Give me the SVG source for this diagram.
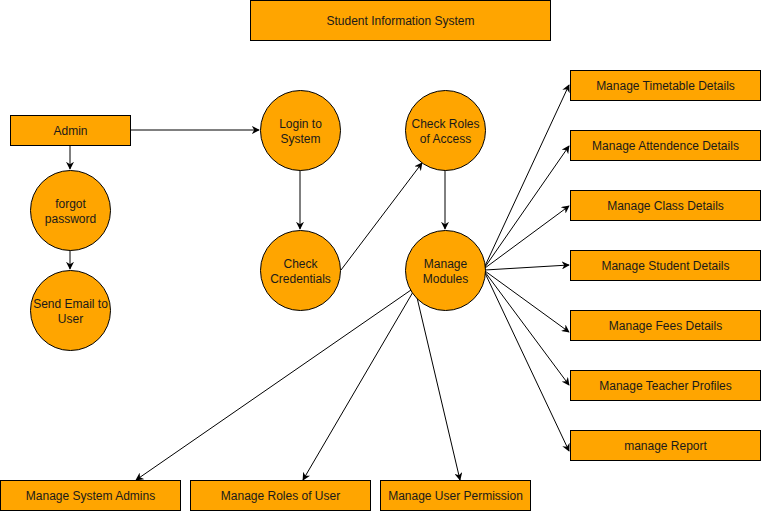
<svg xmlns="http://www.w3.org/2000/svg" width="761" height="511" viewBox="0 0 761 511">
  <defs>
    <marker id="arrow" viewBox="0 0 10 10" refX="9" refY="5" markerWidth="8" markerHeight="8" markerUnits="userSpaceOnUse" orient="auto">
      <path d="M0,0 L10,5 L0,10 L3,5 Z" fill="#000"/>
    </marker>
    <style>
      .box { fill: #ffa500; stroke: #000; stroke-width: 1; }
      .proc { fill: #ffa500; stroke: #000; stroke-width: 1; }
      .lbl { font-family: "Liberation Sans", Arial, sans-serif; font-size: 12px; fill: #1a1a1a; text-anchor: middle; dominant-baseline: central; }
      .edge { fill: none; stroke: #000; stroke-width: 1; marker-end: url(#arrow); }
    </style>
  </defs>
  <rect width="761" height="511" fill="#ffffff"/>

  <g id="connectors">
    <path class="edge" d="M130,130 L259,130"/>
    <path class="edge" d="M70,145 L70,169"/>
    <path class="edge" d="M70,250 L70,269"/>
    <path class="edge" d="M300,170 L300,229"/>
    <path class="edge" d="M341,270 L422,163"/>
    <path class="edge" d="M445,170 L445,229"/>
    <path class="edge" d="M485,266 L569,85"/>
    <path class="edge" d="M485,267 L569,146"/>
    <path class="edge" d="M485,268 L569,206"/>
    <path class="edge" d="M485,270 L569,265"/>
    <path class="edge" d="M485,271 L569,332"/>
    <path class="edge" d="M485,272 L569,385"/>
    <path class="edge" d="M485,273 L569,451"/>
    <path class="edge" d="M411,290 L136,480"/>
    <path class="edge" d="M413,292 L303,480"/>
    <path class="edge" d="M415,289 L460,480"/>
  </g>

  <g id="title">
    <rect class="box" x="250.5" y="0.5" width="300" height="40"/>
    <text class="lbl" x="400.5" y="20.5">Student Information System</text>
  </g>

  <g id="admin">
    <rect class="box" x="10.5" y="115.5" width="120" height="30"/>
    <text class="lbl" x="70.5" y="130.5">Admin</text>
  </g>

  <g id="forgot-password">
    <circle class="proc" cx="70.5" cy="210.5" r="40"/>
    <text class="lbl" x="70.5" y="203.5">forgot</text>
    <text class="lbl" x="70.5" y="218.5">password</text>
  </g>

  <g id="send-email">
    <circle class="proc" cx="70.5" cy="310.5" r="40"/>
    <text class="lbl" x="70.5" y="303.5">Send Email to</text>
    <text class="lbl" x="70.5" y="318.5">User</text>
  </g>

  <g id="login">
    <circle class="proc" cx="300.5" cy="130.5" r="40"/>
    <text class="lbl" x="300.5" y="123.5">Login to</text>
    <text class="lbl" x="300.5" y="138.5">System</text>
  </g>

  <g id="check-credentials">
    <circle class="proc" cx="300.5" cy="270.5" r="40"/>
    <text class="lbl" x="300.5" y="263.5">Check</text>
    <text class="lbl" x="300.5" y="278.5">Credentials</text>
  </g>

  <g id="check-roles">
    <circle class="proc" cx="445.5" cy="130.5" r="40"/>
    <text class="lbl" x="445.5" y="123.5">Check Roles</text>
    <text class="lbl" x="445.5" y="138.5">of Access</text>
  </g>

  <g id="manage-modules">
    <circle class="proc" cx="445.5" cy="270.5" r="40"/>
    <text class="lbl" x="445.5" y="263.5">Manage</text>
    <text class="lbl" x="445.5" y="278.5">Modules</text>
  </g>

  <g id="timetable">
    <rect class="box" x="570.5" y="70.5" width="190" height="30"/>
    <text class="lbl" x="665.5" y="85.5">Manage Timetable Details</text>
  </g>
  <g id="attendence">
    <rect class="box" x="570.5" y="130.5" width="190" height="30"/>
    <text class="lbl" x="665.5" y="145.5">Manage Attendence Details</text>
  </g>
  <g id="class">
    <rect class="box" x="570.5" y="190.5" width="190" height="30"/>
    <text class="lbl" x="665.5" y="205.5">Manage Class Details</text>
  </g>
  <g id="student">
    <rect class="box" x="570.5" y="250.5" width="190" height="30"/>
    <text class="lbl" x="665.5" y="265.5">Manage Student Details</text>
  </g>
  <g id="fees">
    <rect class="box" x="570.5" y="310.5" width="190" height="30"/>
    <text class="lbl" x="665.5" y="325.5">Manage Fees Details</text>
  </g>
  <g id="teacher">
    <rect class="box" x="570.5" y="370.5" width="190" height="30"/>
    <text class="lbl" x="665.5" y="385.5">Manage Teacher Profiles</text>
  </g>
  <g id="report">
    <rect class="box" x="570.5" y="430.5" width="190" height="30"/>
    <text class="lbl" x="665.5" y="445.5">manage Report</text>
  </g>

  <g id="system-admins">
    <rect class="box" x="0.5" y="480.5" width="180" height="30"/>
    <text class="lbl" x="90.5" y="495.5">Manage System Admins</text>
  </g>
  <g id="roles-of-user">
    <rect class="box" x="190.5" y="480.5" width="180" height="30"/>
    <text class="lbl" x="280.5" y="495.5">Manage Roles of User</text>
  </g>
  <g id="user-permission">
    <rect class="box" x="380.5" y="480.5" width="150" height="30"/>
    <text class="lbl" x="455.5" y="495.5">Manage User Permission</text>
  </g>
</svg>
